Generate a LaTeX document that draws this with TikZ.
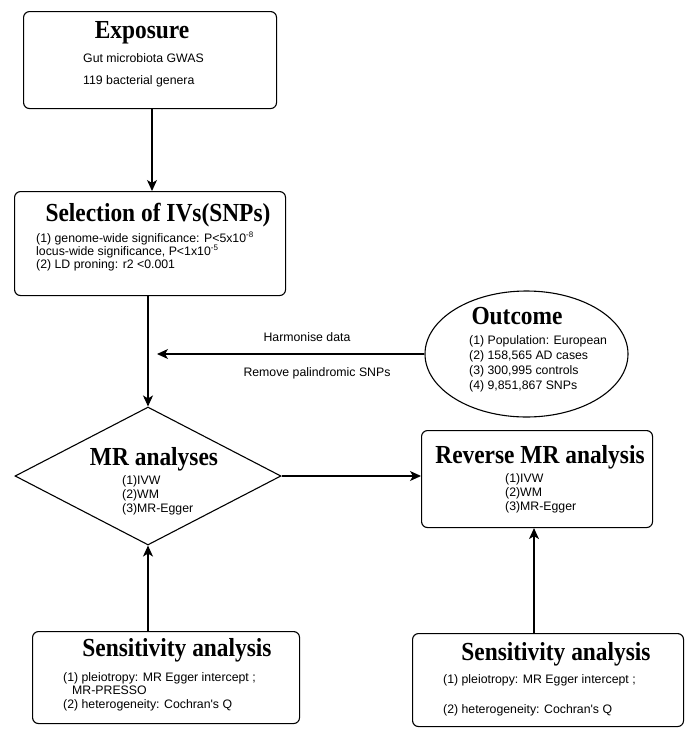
\documentclass[tikz,border=0pt]{standalone}
\usepackage{fontspec}
\setmainfont{Liberation Serif}
\newfontfamily\ttlfam{Liberation Serif}[FakeStretch=0.9]
\newfontfamily\bodyfam{Liberation Sans}
\usetikzlibrary{shapes.geometric,arrows.meta}
\newcommand{\supx}[1]{\raisebox{4.5pt}{\fontsize{8}{8}\selectfont #1}}
\tikzset{
  box/.style={draw, line width=1.1pt, rounded corners=6pt, inner sep=0pt, anchor=north west},
  ttl/.style={font=\ttlfam\bfseries\fontsize{26}{28}\selectfont, inner sep=0pt, text height=17.2pt, text depth=0pt, anchor=center},
  txt/.style={font=\bodyfam\fontsize{12.3}{14}\selectfont, inner sep=0pt, text height=8.8pt, text depth=0pt, anchor=west},
  ctxt/.style={txt, anchor=center},
  arr/.style={line width=1.1pt, -{Stealth[length=11pt,width=10pt,inset=3pt]}},
  ln/.style={line width=1.1pt}
}
\begin{document}
\begin{tikzpicture}[x=1pt,y=-1pt]
\useasboundingbox (0,0) rectangle (685,737);
% boxes
\node[box, minimum width=253pt, minimum height=97pt] (exp) at (23,11) {};
\node[box, minimum width=271pt, minimum height=104pt] (sel) at (14,191) {};
\node[draw, line width=1.1pt, ellipse, inner sep=0pt, minimum width=203pt, minimum height=126pt] (out) at (526.5,354) {};
\node[draw, line width=1.1pt, diamond, inner sep=0pt, minimum width=266pt, minimum height=138pt] (mr) at (148,476) {};
\node[box, minimum width=231pt, minimum height=97pt] (rev) at (421,430) {};
\node[box, minimum width=267pt, minimum height=92pt] (s1) at (32,631) {};
\node[box, minimum width=271pt, minimum height=93pt] (s2) at (412,633) {};
% texts
\node[ttl] (t1) at (142,30) {Exposure};
\node[txt] (e1) at (83,58) {Gut microbiota GWAS};
\node[txt] (e2) at (83,80) {119 bacterial genera};
\node[ttl] (t2) at (158,213) {Selection of IVs(SNPs)};
\node[txt] (g1) at (36,238) {(1) genome-wide significance: P<5x10\supx{-8}};
\node[txt] (g2) at (36,251) {locus-wide significance, P<1x10\supx{-5}};
\node[txt] (g3) at (36,264) {(2) LD proning: r2 <0.001};
\node[ctxt] (h1) at (307,337) {Harmonise data};
\node[ctxt] (h2) at (317,372) {Remove palindromic SNPs};
\node[ttl] (t3) at (517,316) {Outcome};
\node[txt] (o1) at (469,340) {(1) Population: European};
\node[txt] (o2) at (469,355) {(2) 158,565 AD cases};
\node[txt] (o3) at (469,370) {(3) 300,995 controls};
\node[txt] (o4) at (469,385) {(4) 9,851,867 SNPs};
\node[ttl] (t4) at (154,457) {MR analyses};
\node[txt] (m1) at (122,480) {(1)IVW};
\node[txt] (m2) at (122,494) {(2)WM};
\node[txt] (m3) at (122,508) {(3)MR-Egger};
\node[ttl] (t5) at (540,455) {Reverse MR analysis};
\node[txt] (r1) at (505,478) {(1)IVW};
\node[txt] (r2) at (505,492) {(2)WM};
\node[txt] (r3) at (505,506) {(3)MR-Egger};
\node[ttl] (t6) at (177,648) {Sensitivity analysis};
\node[txt] (a1) at (63,677) {(1) pleiotropy: MR Egger intercept ;};
\node[txt] (a2) at (72,690) {MR-PRESSO};
\node[txt] (a3) at (63,704) {(2) heterogeneity: Cochran\textquotesingle s Q};
\node[ttl] (t7) at (556,652) {Sensitivity analysis};
\node[txt] (b1) at (443,679) {(1) pleiotropy: MR Egger intercept ;};
\node[txt] (b2) at (443,709) {(2) heterogeneity: Cochran\textquotesingle s Q};
% connectors
\coordinate (cx1) at (152,0);
\coordinate (hend) at (157,354);
\coordinate (cx2) at (534,0);
\draw[arr] (exp.south -| cx1) -- (sel.north -| cx1);
\draw[arr] (sel.south -| mr.north) -- (mr.north);
\draw[arr] (out.west) -- (hend);
\draw[arr] (mr.east) -- (mr.east -| rev.west);
\draw[arr] (s1.north -| mr.south) -- (mr.south);
\draw[arr] (s2.north -| cx2) -- (rev.south -| cx2);
\end{tikzpicture}
\end{document}
